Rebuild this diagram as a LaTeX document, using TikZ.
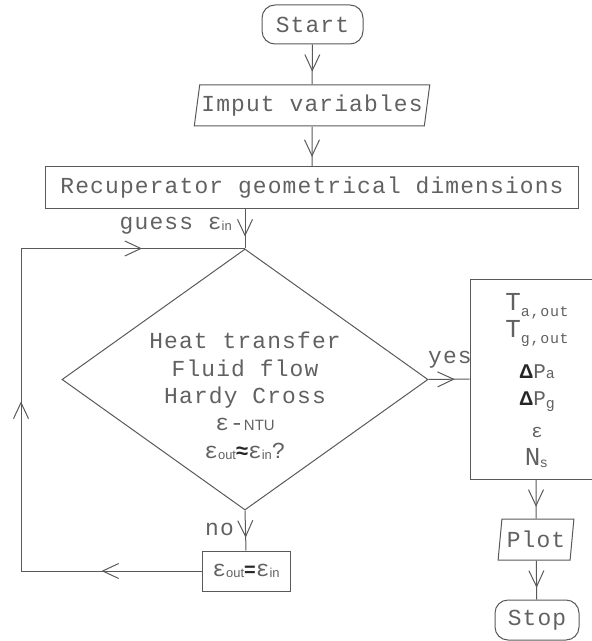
\documentclass[tikz,border=0pt]{standalone}
\usepackage{fontspec}
\setmainfont{Liberation Mono}[LetterSpace=5]
\newfontfamily\arialfnt{Liberation Sans}
\usetikzlibrary{arrows.meta,shapes.geometric,decorations.markings}

\newcommand{\fsz}[1]{\fontsize{#1}{#1}\selectfont}
% epsilon with a small sans index
\newcommand{\epsidx}[1]{ε\raisebox{-1.5bp}{\arialfnt\fsz{13}#1}}

\tikzset{
  conn/.style={color=black!65, line width=1bp},
  >={Straight Barb[length=16bp,width=15bp]},
  flow/.style={conn, postaction={decorate},
    decoration={markings, mark=at position #1 with {\arrow{>}}}},
  flow/.default=0.7,
  proc/.style={draw=black!65, line width=1bp, rectangle, inner sep=0pt,
    minimum height=41bp, text=black!62},
  term/.style={proc, rounded corners=13bp},
  io/.style={draw=black!65, line width=1bp, trapezium, trapezium left angle=76,
    trapezium right angle=104, trapezium stretches=true, inner sep=0pt,
    minimum height=41bp, text=black!62},
  decide/.style={draw=black!65, line width=1bp, diamond, inner sep=0pt},
  lbl/.style={text=black!62, inner sep=0pt},
}

\begin{document}
\begin{tikzpicture}[x=1bp,y=-1bp,font=\fsz{23}]
  \useasboundingbox (0,0) rectangle (592,641);
  \clip (0,0) rectangle (592,641);

  % main column
  \node[term, minimum width=101bp, minimum height=39bp] (start) at (312.5,24.5) {Start};
  \node[io, minimum width=236bp] (input) at (312,105.5) {Imput variables};
  \node[proc, minimum width=532bp] (geom) at (312,187.5) {Recuperator geometrical dimensions};
  \node[decide, minimum width=366bp, minimum height=261bp] (dec) at (245,379.5) {};
  \node[lbl, align=center, font={\fontsize{23}{27.5}\selectfont}] (dectxt) at (245,396)
    {Heat transfer\\Fluid flow\\Hardy Cross\\ε-{\arialfnt\fsz{15}NTU}\\%
     \epsidx{out}{\arialfnt\bfseries\fsz{22}\color{black!85}≈}\epsidx{in}?};
  \node[proc, minimum width=88bp, minimum height=40bp] (upd) at (246,571)
    {\epsidx{out}{\arialfnt\bfseries\fsz{20}\color{black!85}=}\epsidx{in}};

  % results column
  \node[proc, minimum width=132bp, minimum height=200bp] (res) at (536,379) {};
  \node[lbl, anchor=base] (tao) at (537,310) {\fsz{26}T\raisebox{-6bp}{\fsz{15}a,out}};
  \node[lbl, anchor=base] (tgo) at (537,337) {\fsz{26}T\raisebox{-6bp}{\fsz{15}g,out}};
  \node[lbl, anchor=base] (dpa) at (537,378)
    {{\arialfnt\bfseries\fsz{20}\color{black!85}Δ}\fsz{21}P{\fsz{15}a}};
  \node[lbl, anchor=base] (dpg) at (537,405)
    {{\arialfnt\bfseries\fsz{20}\color{black!85}Δ}\fsz{21}P\raisebox{-3bp}{\fsz{15}g}};
  \node[lbl, anchor=base] (eff) at (537,437) {\fsz{19}ε};
  \node[lbl, anchor=base] (ns) at (536,465) {\fsz{26}N\raisebox{-2bp}{\arialfnt\fsz{14}s}};
  \node[io, trapezium left angle=79, trapezium right angle=101, minimum width=76bp]
    (plot) at (536,539.5) {Plot};
  \node[term, minimum width=84bp, minimum height=40bp] (stop) at (537,620) {Stop};

  % branch labels
  \node[lbl, anchor=base east] (guess) at (232,229) {guess \epsidx{in}};
  \node[lbl, anchor=base west] (yes) at (428,363) {yes};
  \node[lbl, anchor=base east] (no) at (234,535) {no};

  % connectors
  \draw[flow=0.68] (start) -- (input);
  \draw[flow=0.76] (input) -- (geom);
  \draw[flow] (dec.north |- geom.south) -- (dec.north);
  \draw[flow=0.64] (dec.east) -- (res.west);
  \draw[flow=0.68] (dec.south) -- (upd.north);
  \draw[flow] (res.south) -- (plot.north);
  \draw[flow] (plot) -- (stop);

  % iteration loop back to the test
  \coordinate (lb) at (21,571);
  \draw[conn, postaction={decorate}, decoration={markings,
      mark=at position 100bp with {\arrow{>}},
      mark=at position 350bp with {\arrow{>}},
      mark=at position 624bp with {\arrow{>}}}]
    (upd.west) -- (lb) |- (dec.north);
\end{tikzpicture}
\end{document}
